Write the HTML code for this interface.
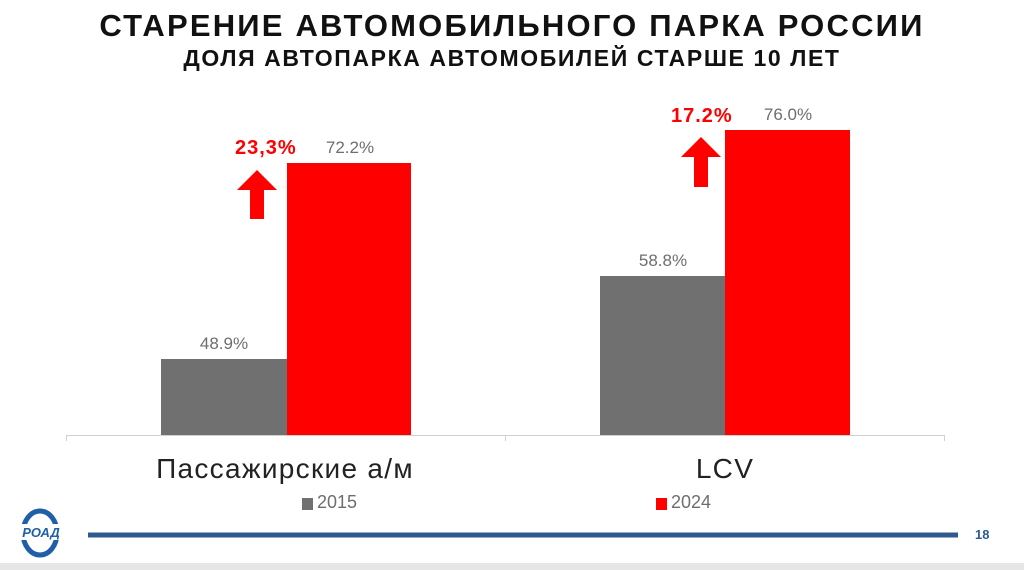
<!DOCTYPE html>
<html><head><meta charset="utf-8"><style>
body{margin:0;width:1024px;height:570px;background:#fff;position:relative;overflow:hidden;font-family:"Liberation Sans",sans-serif}
.a{position:absolute}
.t{left:0;width:1024px;text-align:center;font-weight:bold;color:#111}
.bar{position:absolute}
.g{background:#707070}.r{background:#ff0000}
.lab{position:absolute;font-size:17px;color:#6e6e6e;text-align:center;width:126px}
.pct{position:absolute;font-size:20px;font-weight:bold;color:#ff0000;letter-spacing:1px}
</style></head><body>
<div class="a t" style="top:8px;font-size:31px;letter-spacing:2.2px">СТАРЕНИЕ АВТОМОБИЛЬНОГО ПАРКА РОССИИ</div>
<div class="a t" style="top:45px;font-size:23px;letter-spacing:1.6px">ДОЛЯ АВТОПАРКА АВТОМОБИЛЕЙ СТАРШЕ 10 ЛЕТ</div>

<div class="bar g" style="left:161px;top:359px;width:126px;height:76px"></div>
<div class="bar r" style="left:287px;top:163px;width:124px;height:272px"></div>
<div class="bar g" style="left:600px;top:276px;width:125px;height:159px"></div>
<div class="bar r" style="left:725px;top:130px;width:125px;height:305px"></div>

<div class="lab" style="left:161px;top:334px">48.9%</div>
<div class="lab" style="left:287px;top:138px">72.2%</div>
<div class="lab" style="left:600px;top:251px">58.8%</div>
<div class="lab" style="left:725px;top:105px">76.0%</div>

<div class="pct" style="left:235px;top:137px">23,3%</div>
<div class="pct" style="left:671px;top:105px">17.2%</div>

<svg class="a" style="left:0;top:0" width="1024" height="570">
<polygon points="257,170 277,190 264,190 264,219 250,219 250,190 237,190" fill="#ff0000"/>
<polygon points="701,137 721,157 708,157 708,187 694,187 694,157 681,157" fill="#ff0000"/>
<line x1="66" y1="435.5" x2="945" y2="435.5" stroke="#d0d0d0" stroke-width="1"/>
<line x1="66.5" y1="435" x2="66.5" y2="441" stroke="#d0d0d0"/>
<line x1="505.5" y1="435" x2="505.5" y2="441" stroke="#d0d0d0"/>
<line x1="944.5" y1="435" x2="944.5" y2="441" stroke="#d0d0d0"/>
<line x1="88" y1="535" x2="958" y2="535" stroke="#2f5a8e" stroke-width="5"/>
<ellipse cx="40" cy="533" rx="17" ry="22" fill="none" stroke="#1f5fa8" stroke-width="5"/>
<rect x="18" y="524" width="46" height="16" fill="#fff"/>
<text x="41" y="537" font-size="13" font-weight="bold" font-style="italic" fill="#1f5fa8" text-anchor="middle" font-family="Liberation Sans">РОАД</text>
<rect x="0" y="563" width="1024" height="7" fill="#e6e6e6"/>
</svg>

<div class="a" style="left:100px;top:453px;width:370px;text-align:center;font-size:28px;letter-spacing:1.3px;color:#222">Пассажирские а/м</div>
<div class="a" style="left:540px;top:453px;width:370px;text-align:center;font-size:28px;letter-spacing:1.3px;color:#222">LCV</div>

<div class="a" style="left:302px;top:498px;width:11px;height:12px;background:#707070"></div>
<div class="a" style="left:317px;top:492px;font-size:18px;color:#6e6e6e">2015</div>
<div class="a" style="left:656px;top:498px;width:11px;height:12px;background:#ff0000"></div>
<div class="a" style="left:671px;top:492px;font-size:18px;color:#6e6e6e">2024</div>
<div class="a" style="left:975px;top:527px;font-size:13px;font-weight:bold;color:#2f5a8e">18</div>
</body></html>
